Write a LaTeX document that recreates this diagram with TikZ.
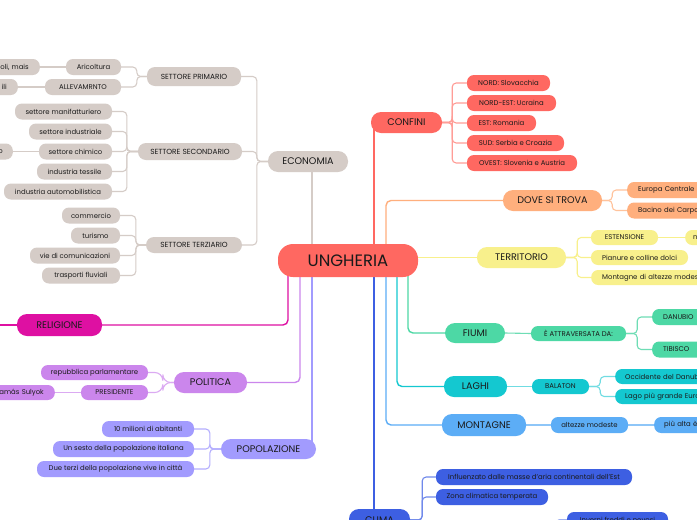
\documentclass[tikz,border=0pt]{standalone}
\usepackage{fontspec}
\setmainfont{Poppins}
\usetikzlibrary{calc}
\pgfdeclarelayer{bg}
\pgfsetlayers{bg,main}
\definecolor{cRed}{HTML}{FF6861}
\definecolor{cRedL}{HTML}{FF9D97}
\definecolor{cGray}{HTML}{D5CCC7}
\definecolor{cOr}{HTML}{FFAF7D}
\definecolor{cOrL}{HTML}{FFC39C}
\definecolor{cYel}{HTML}{F8F08C}
\definecolor{cGr}{HTML}{4DD8A5}
\definecolor{cGrL}{HTML}{6EDDB5}
\definecolor{cCy}{HTML}{14C8D0}
\definecolor{cCyL}{HTML}{70DCE2}
\definecolor{cBl}{HTML}{5CADF6}
\definecolor{cBlL}{HTML}{8EC6F8}
\definecolor{cRoy}{HTML}{3D5FE2}
\definecolor{cRoyL}{HTML}{7089EB}
\definecolor{cMag}{HTML}{DE10A2}
\definecolor{cLil}{HTML}{CB86EC}
\definecolor{cLilL}{HTML}{DBAAF2}
\definecolor{cPer}{HTML}{A29BFE}
\definecolor{cPerL}{HTML}{B5AFFE}
\definecolor{cTxt}{HTML}{1A1A1A}
\tikzset{
  nd/.style={inner sep=0pt, align=center, text=cTxt},
  lf/.style={nd, rounded corners=7pt, minimum height=16pt, font=\fontsize{6.9}{7.5}\selectfont},
  edgeE/.style={lf, anchor=east, text width=60pt, align=right, inner xsep=11pt},
  edgeW/.style={lf, anchor=west, text width=130pt, align=left, inner xsep=11pt},
  subn/.style={nd, rounded corners=8pt, minimum height=17pt, font=\fontsize{7.4}{8}\selectfont},
  topn/.style={nd, rounded corners=10pt, minimum height=21pt, font=\fontsize{9.6}{10}\selectfont},
  con/.style={line width=1.4pt},
  sb/.style={line width=1.1pt, rounded corners=4pt},
}
\begin{document}
\begin{tikzpicture}[x=1pt,y=-1pt]
\useasboundingbox (0,0) rectangle (697,520);
\begin{pgfonlayer}{bg}
\fill[white] (0,0) rectangle (697,520);
\end{pgfonlayer}

% central
\node[nd, fill=cRed, rounded corners=15pt, minimum width=140pt, minimum height=33pt, font=\fontsize{16.5}{17}\selectfont] (ung) at (348,260.5) {UNGHERIA};

% ECONOMIA
\node[topn, fill=cGray, minimum width=80pt] (eco) at (308,161.5) {ECONOMIA};
\node[subn, fill=cGray, minimum width=94pt, minimum height=19pt] (sp) at (194,76.5) {SETTORE PRIMARIO};
\node[subn, fill=cGray, minimum width=104pt] (ss) at (190,151.5) {SETTORE SECONDARIO};
\node[subn, fill=cGray, minimum width=96pt, minimum height=16pt] (st) at (194,245) {SETTORE TERZIARIO};
\node[lf, fill=cGray, minimum width=55pt] (agr) at (93.5,67) {Aricoltura};
\node[lf, fill=cGray, minimum width=76pt] (all) at (83,87) {ALLEVAMRNTO};
\node[edgeE, fill=cGray] (agrx) at (40,67) {oli, mais};
\node[edgeE, fill=cGray] (allx) at (18,87) {ili};
\node[lf, fill=cGray, minimum width=97pt] (s1) at (63.5,111.5) {settore manifatturiero};
\node[lf, fill=cGray, minimum width=83pt] (s2) at (70.5,131.5) {settore industriale};
\node[lf, fill=cGray, minimum width=73pt] (s3) at (75.5,151.5) {settore chimico};
\node[lf, fill=cGray, minimum width=75pt] (s4) at (74.5,171.5) {industria tessile};
\node[lf, fill=cGray, minimum width=108pt] (s5) at (58,191.5) {industria automobilistica};
\node[edgeE, fill=cGray, inner xsep=10pt] (s3x) at (13,151.5) {o};
\node[lf, fill=cGray, minimum width=58pt] (t1) at (91,215.5) {commercio};
\node[lf, fill=cGray, minimum width=49pt] (t2) at (95.5,235.5) {turismo};
\node[lf, fill=cGray, minimum width=90pt] (t3) at (75,255.5) {vie di comunicazioni};
\node[lf, fill=cGray, minimum width=78pt] (t4) at (81,275.5) {trasporti fluviali};

% CONFINI
\node[topn, fill=cRed, minimum width=71pt] (con) at (406.5,122.5) {CONFINI};
\node[lf, fill=cRed, minimum width=83pt] (c1) at (508.5,83) {NORD: Slovacchia};
\node[lf, fill=cRed, minimum width=89pt] (c2) at (511.5,103) {NORD-EST: Ucraina};
\node[lf, fill=cRed, minimum width=69pt] (c3) at (501.5,123) {EST: Romania};
\node[lf, fill=cRed, minimum width=97pt] (c4) at (515.5,143) {SUD: Serbia e Croazia};
\node[lf, fill=cRed, minimum width=110pt] (c5) at (522,163) {OVEST: Slovenia e Austria};

% DOVE SI TROVA
\node[topn, fill=cOr, minimum width=99pt] (dove) at (552.5,200.5) {DOVE SI TROVA};
\node[edgeW, fill=cOr] (d1) at (627,190) {Europa Centrale};
\node[edgeW, fill=cOr] (d2) at (627,210.5) {Bacino dei Carpazi};

% TERRITORIO
\node[topn, fill=cYel, minimum width=89pt] (ter) at (521.5,257.5) {TERRITORIO};
\node[lf, fill=cYel, minimum width=67pt, minimum height=15pt] (e1) at (624.5,237.5) {ESTENSIONE};
\node[edgeW, fill=cYel, inner xsep=8pt, minimum height=15pt] (e1x) at (685,237.5) {n};
\node[lf, fill=cYel, minimum width=97pt, minimum height=15pt] (e2) at (639.5,257.5) {Pianure e colline dolci};
\node[edgeW, fill=cYel, minimum height=15pt] (e3) at (591,277.5) {Montagne di altezze modeste};

% FIUMI
\node[topn, fill=cGr, minimum width=60pt, minimum height=20pt] (fiu) at (475,333) {FIUMI};
\node[lf, fill=cGr, minimum width=95pt, minimum height=15pt] (att) at (578.5,333.5) {È ATTRAVERSATA DA:};
\node[edgeW, fill=cGr] (dan) at (652,317) {DANUBIO};
\node[edgeW, fill=cGr] (tib) at (652,349.5) {TIBISCO};

% LAGHI
\node[topn, fill=cCy, minimum width=63pt] (lag) at (475.5,386.5) {LAGHI};
\node[lf, fill=cCy, minimum width=57pt, minimum height=15pt] (bal) at (560.5,386.5) {BALATON};
\node[edgeW, fill=cCy, inner xsep=10pt, minimum height=15pt] (o1) at (615,376.5) {Occidente del Danubio};
\node[edgeW, fill=cCy, inner xsep=10pt, minimum height=15pt] (o2) at (615,396.5) {Lago più grande Europa};

% MONTAGNE
\node[topn, fill=cBl, minimum width=84pt, minimum height=22pt] (mon) at (484,425) {MONTAGNE};
\node[lf, fill=cBl, minimum width=77pt] (alt) at (589.5,425) {altezze modeste};
\node[edgeW, fill=cBl, inner xsep=10pt] (pal) at (654,425) {più alta è};

% CLIMA
\node[topn, fill=cRoy, minimum width=61pt, minimum height=22pt] (cli) at (379.5,520) {CLIMA};
\node[lf, fill=cRoy, minimum width=196pt] (k1) at (534,477) {Influenzato dalle masse d'aria continentali dell'Est};
\node[lf, fill=cRoy, minimum width=112pt] (k2) at (492,497) {Zona climatica temperata};
\node[lf, fill=cRoy, minimum width=101pt] (k3) at (617.5,520) {Inverni freddi e nevosi};
\coordinate (k3t) at (555,545);

% RELIGIONE
\node[topn, fill=cMag, minimum width=85pt, minimum height=22pt] (rel) at (59.5,325) {RELIGIONE};
\coordinate (relx) at (0,325);

% POLITICA
\node[topn, fill=cLil, minimum width=73pt] (pol) at (210.5,382.5) {POLITICA};
\node[lf, fill=cLil, minimum width=107pt, minimum height=15pt] (p1) at (94.5,372.5) {repubblica parlamentare};
\node[lf, fill=cLil, minimum width=67pt, minimum height=15pt] (p2) at (114.5,392.5) {PRESIDENTE};
\node[edgeE, fill=cLil, minimum height=15pt] (p2x) at (55,392.5) {Tamás Sulyok};

% POPOLAZIONE
\node[topn, fill=cPer, minimum width=95pt, minimum height=20pt] (pop) at (268.5,449) {POPOLAZIONE};
\node[lf, fill=cPer, minimum width=92pt] (q1) at (148,429) {10 milioni di abitanti};
\node[lf, fill=cPer, minimum width=141pt] (q2) at (123.5,449) {Un sesto della popolazione italiana};
\node[lf, fill=cPer, minimum width=157pt] (q3) at (115.5,469) {Due terzi della popolazione vive in città};

\begin{pgfonlayer}{bg}
% main connectors
\draw[con, cGray] ([xshift=-36pt]ung.center) -- ([xshift=-36pt]ung.center |- eco.center);
\draw[con, cRed] ([xshift=26pt]ung.center) -- ([xshift=26pt]ung.center |- con.center);
\draw[con, cOr, rounded corners=5pt] ([xshift=38pt]ung.center) |- (dove.west);
\draw[con, cYel] (ung.center |- ter.west) -- (ter.west);
\draw[con, cGr, rounded corners=5pt] ([xshift=60pt]ung.center) |- (fiu.west);
\draw[con, cCy, rounded corners=5pt] ([xshift=49pt]ung.center) |- (lag.west);
\draw[con, cBl, rounded corners=5pt] ([xshift=38pt]ung.center) |- (mon.west);
\draw[con, cRoy] ([xshift=26pt]ung.center) -- ([xshift=26pt]ung.center |- cli.center);
\draw[con, cMag, rounded corners=5pt] ([xshift=-60pt]ung.center) |- (rel.east);
\draw[con, cLil, rounded corners=5pt] ([xshift=-48pt]ung.center) |- (pol.east);
\draw[con, cPer] ([xshift=-36pt]ung.center) -- ([xshift=-36pt]ung.center |- pop.center);

% economia
\foreach \c in {sp,ss,st} \draw[sb, cGray] (eco.west) -- ++(-11,0) |- (\c.east);
\foreach \c in {agr,all} \draw[sb, cGray] (sp.west) -- ++(-10,0) |- (\c.east);
\foreach \c in {s1,s2,s3,s4,s5} \draw[sb, cGray] (ss.west) -- ++(-11,0) |- (\c.east);
\foreach \c in {t1,t2,t3,t4} \draw[sb, cGray] (st.west) -- ++(-10,0) |- (\c.east);
\draw[sb, cGray] (agr.west) -- (agrx.east);
\draw[sb, cGray] (all.west) -- (allx.east);
\draw[sb, cGray] (s3.west) -- (s3x.east);

% confini
\foreach \c in {c1,c2,c3,c4,c5} \draw[sb, cRedL] (con.east) -- ++(10,0) |- (\c.west);
% dove
\foreach \c in {d1,d2} \draw[sb, cOrL] (dove.east) -- ++(10,0) |- (\c.west);
% territorio
\foreach \c in {e1,e2,e3} \draw[sb, cYel] (ter.east) -- ++(11,0) |- (\c.west);
\draw[sb, cYel] (e1.east) -- (e1x.west);
% fiumi
\draw[sb, cGrL] (fiu.east) -- (att.west);
\foreach \c in {dan,tib} \draw[sb, cGrL] (att.east) -- ++(11,0) |- (\c.west);
% laghi
\draw[sb, cCyL] (lag.east) -- (bal.west);
\foreach \c in {o1,o2} \draw[sb, cCyL] (bal.east) -- ++(11,0) |- (\c.west);
% montagne
\draw[sb, cBlL] (mon.east) -- (alt.west);
\draw[sb, cBlL] (alt.east) -- (pal.west);
% clima
\foreach \c in {k1,k2} \draw[sb, cRoyL] (cli.east) -- ++(12,0) |- (\c.west);
\draw[sb, cRoyL] (cli.east) -- ++(12,0) -- ++(0,20);
\draw[sb, cRoyL] (k3t) |- (k3.west);
% religione
\draw[con, cMag] (rel.west) -- (relx);
% politica
\foreach \c in {p1,p2} \draw[sb, cLilL, rounded corners=8pt] (pol.west) -- ++(-11,0) |- (\c.east);
\draw[sb, cLilL] (p2.west) -- (p2x.east);
% popolazione
\foreach \c in {q1,q2,q3} \draw[sb, cPerL] (pop.west) -- ++(-11,0) |- (\c.east);
\end{pgfonlayer}
\end{tikzpicture}
\end{document}
